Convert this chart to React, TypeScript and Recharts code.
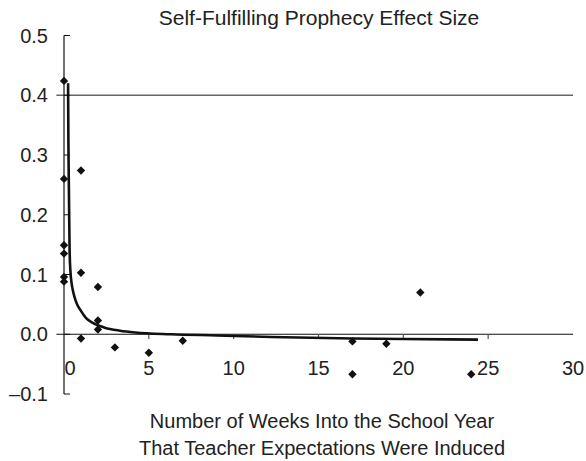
import React from "react";
import {
  ComposedChart,
  XAxis,
  YAxis,
  Scatter,
  Line,
  ReferenceLine,
} from "recharts";

const TITLE = "Self-Fulfilling Prophecy Effect Size";
const X_LABEL_1 = "Number of Weeks Into the School Year";
const X_LABEL_2 = "That Teacher Expectations Were Induced";

const xTicks = [0, 5, 10, 15, 20, 25, 30];
const yTicks = [-0.1, 0, 0.1, 0.2, 0.3, 0.4, 0.5];
const referenceY = 0.4;

// observed effect sizes (weeks, effect)
const studyWeeks = [0, 0, 0, 0, 0, 0, 1, 1, 1, 2, 2, 2, 3, 5, 7, 17, 17, 19, 21, 24];
const studyEffects = [
  0.424, 0.26, 0.149, 0.135, 0.096, 0.088, 0.274, 0.103, -0.007, 0.079, 0.023,
  0.008, -0.022, -0.031, -0.011, -0.012, -0.067, -0.016, 0.07, -0.067,
];

// fitted curve
const curveWeeks = [
  0.24, 0.26, 0.29, 0.33, 0.38, 0.45, 0.55, 0.7, 1.0, 1.3, 1.7, 2.4, 3.3, 4.2,
  6.3, 9, 12.2, 17, 20, 24.4,
];
const curveEffects = [
  0.42, 0.32, 0.24, 0.14, 0.105, 0.085, 0.07, 0.055, 0.039, 0.027, 0.019, 0.011,
  0.006, 0.003, 0.0, -0.002, -0.0045, -0.007, -0.008, -0.009,
];

const points = studyWeeks.map((x, i) => ({ x, y: studyEffects[i] }));
const curve = curveWeeks.map((x, i) => ({ x, y: curveEffects[i] }));

const FONT = "'Liberation Sans', Arial, Helvetica, sans-serif";
const TEXT = "#222";
const INK = "#111";

const Diamond = (props: any) => {
  const { cx, cy } = props;
  if (cx == null || cy == null) return null;
  const r = 4.2;
  return (
    <path
      d={`M${cx},${cy - r}L${cx + r},${cy}L${cx},${cy + r}L${cx - r},${cy}Z`}
      fill={INK}
    />
  );
};

const XTick = (props: any) => {
  const { x, y, payload } = props;
  const shift = payload.value === 0 ? 6 : 0;
  return (
    <text
      x={x + shift}
      y={y - 27}
      textAnchor="middle"
      fontSize={20}
      fontFamily={FONT}
      fill={TEXT}
    >
      {payload.value}
    </text>
  );
};

const fmtY = (v: number) => {
  const s = Math.abs(v).toFixed(1);
  return v < 0 ? "\u2013" + s : s;
};

export default function App() {
  return (
    <div
      style={{
        position: "absolute",
        left: 0,
        top: 0,
        width: 586,
        height: 461,
        background: "#fff",
        fontFamily: FONT,
      }}
    >
      <div
        style={{
          position: "absolute",
          left: 0,
          width: 638,
          top: 7,
          textAlign: "center",
          fontSize: 21,
          lineHeight: "21px",
          color: TEXT,
          whiteSpace: "nowrap",
        }}
      >
        {TITLE}
      </div>
      <ComposedChart
        width={586}
        height={461}
        margin={{ top: 35.5, right: 13, left: 0, bottom: 0 }}
      >
        <XAxis
          type="number"
          dataKey="x"
          domain={[0, 30]}
          ticks={xTicks}
          axisLine={false}
          tickLine={false}
          tick={<XTick />}
          height={67}
          interval={0}
        />
        <YAxis
          type="number"
          dataKey="y"
          domain={[-0.1, 0.5]}
          ticks={yTicks}
          width={64}
          interval={0}
          axisLine={{ stroke: INK, strokeWidth: 1.2 }}
          tickLine={{ stroke: INK, strokeWidth: 1 }}
          tickSize={-6}
          tickMargin={22}
          tickFormatter={fmtY}
          tick={{ fontSize: 20, fontFamily: FONT, fill: TEXT }}
        />
        <ReferenceLine
          segment={[
            { x: -0.45, y: referenceY },
            { x: 30, y: referenceY },
          ]}
          stroke="#666"
          strokeWidth={1.5}
          ifOverflow="visible"
        />
        <ReferenceLine
          segment={[
            { x: -0.45, y: 0 },
            { x: 30, y: 0 },
          ]}
          stroke={INK}
          strokeWidth={1.2}
          ifOverflow="visible"
        />
        {xTicks
          .filter((t) => t > 0 && t < 30)
          .map((t) => (
            <ReferenceLine
              key={t}
              segment={[
                { x: t, y: 0 },
                { x: t, y: -0.008 },
              ]}
              stroke="#555"
              strokeWidth={1.2}
              ifOverflow="visible"
            />
          ))}
        <Line
          data={curve}
          dataKey="y"
          type="monotone"
          stroke={INK}
          strokeWidth={2.6}
          dot={false}
          activeDot={false}
          isAnimationActive={false}
        />
        <Scatter
          data={points}
          dataKey="y"
          shape={<Diamond />}
          isAnimationActive={false}
        />
      </ComposedChart>
      <div
        style={{
          position: "absolute",
          left: 0,
          width: 644,
          top: 408,
          textAlign: "center",
          fontSize: 20,
          lineHeight: "26.5px",
          color: TEXT,
          whiteSpace: "nowrap",
        }}
      >
        <div>{X_LABEL_1}</div>
        <div>{X_LABEL_2}</div>
      </div>
    </div>
  );
}
